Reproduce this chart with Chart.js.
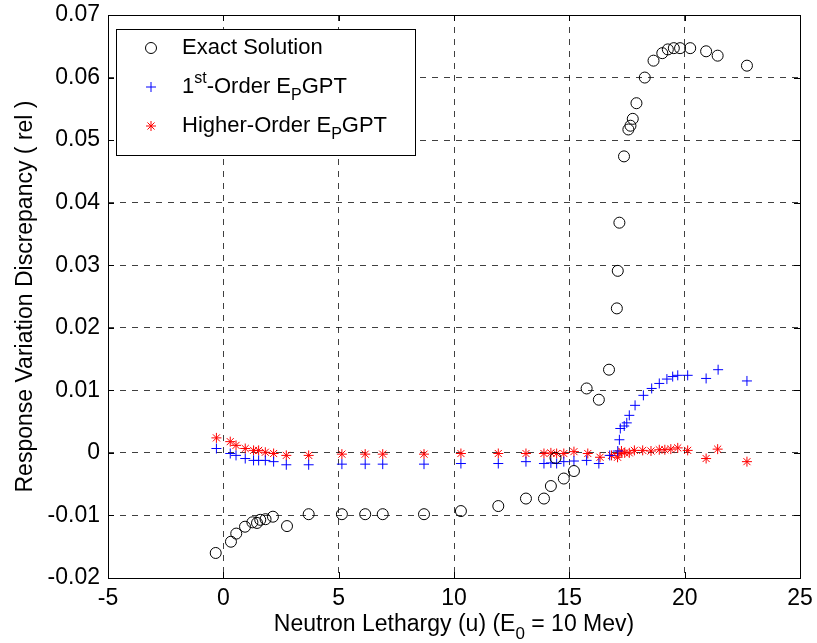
<!DOCTYPE html>
<html>
<head>
<meta charset="utf-8">
<script src="https://cdn.jsdelivr.net/npm/chart.js@4"></script>
<style>
  html, body { margin: 0; padding: 0; background: #fff; }
  #wrap { width: 817px; height: 643px; }
</style>
</head>
<body>
<div id="wrap"><canvas id="c" width="817" height="643"></canvas></div>
<script>
// Neutron lethargy (u) for each sample, and the relative response discrepancy
const exactU = [-0.33,0.33,0.56,0.94,1.26,1.46,1.6,1.83,2.15,2.76,3.7,5.14,6.15,6.91,8.7,10.3,11.92,13.12,13.9,14.2,14.4,14.76,15.2,15.75,16.28,16.72,17.06,17.1,17.17,17.37,17.56,17.65,17.75,17.91,18.27,18.65,19.03,19.27,19.53,19.8,20.24,20.93,21.43,22.7];
const exactV = [-0.0160,-0.0142,-0.0129,-0.0118,-0.0111,-0.0112,-0.0107,-0.0106,-0.0102,-0.0117,-0.0098,-0.0098,-0.0098,-0.0098,-0.0098,-0.0093,-0.0085,-0.0073,-0.0073,-0.0053,-0.0008,-0.0041,-0.0029,0.0103,0.0085,0.0133,0.0231,0.0291,0.0368,0.0474,0.0517,0.0523,0.0534,0.0559,0.0600,0.0627,0.0639,0.0645,0.0647,0.0647,0.0647,0.0642,0.0635,0.0619];

const firstU = [-0.3,0.3,0.55,0.95,1.31,1.53,1.82,2.18,2.73,3.7,5.14,6.15,6.91,8.7,10.3,11.92,13.12,13.9,14.2,14.45,14.76,15.2,15.75,16.28,16.75,17.1,17.17,17.21,17.38,17.49,17.6,17.85,18.21,18.57,18.9,19.23,19.48,19.7,20.13,20.93,21.45,22.7];
const firstV = [0.0007,-0.0001,-0.0004,-0.0009,-0.0012,-0.0012,-0.0012,-0.0014,-0.0019,-0.0019,-0.0018,-0.0018,-0.0018,-0.0018,-0.0017,-0.0017,-0.0014,-0.0017,-0.0016,-0.0017,-0.0014,-0.0013,-0.0012,-0.0017,-0.0004,0.0003,0.0021,0.0039,0.0043,0.0048,0.0060,0.0076,0.0092,0.0103,0.0111,0.0118,0.0122,0.0124,0.0124,0.0119,0.0133,0.0115];

const higherU = [-0.3,0.3,0.55,0.95,1.31,1.53,1.82,2.18,2.73,3.7,5.14,6.15,6.91,8.7,10.3,11.92,13.12,13.9,14.2,14.45,14.76,15.2,15.8,16.33,16.83,17.09,17.15,17.26,17.4,17.6,17.82,18.18,18.54,18.9,19.14,19.4,19.7,20.13,20.93,21.43,22.7];
const higherV = [0.0024,0.0018,0.0012,0.0007,0.0004,0.0004,0.0001,-0.0001,-0.0004,-0.0004,-0.0002,-0.0002,-0.0002,-0.0002,-0.0001,-0.0001,-0.0001,-0.0001,0,-0.0001,-0.0001,0.0002,-0.0001,-0.0007,-0.0004,-0.0007,-0.0001,0.0003,0,0,0.0004,0.0004,0.0003,0.0005,0.0005,0.0006,0.0008,0.0004,-0.0009,0.0006,-0.0014];

const xTicks = [-5, 0, 5, 10, 15, 20, 25];
const yTicks = [-0.02, -0.01, 0, 0.01, 0.02, 0.03, 0.04, 0.05, 0.06, 0.07];

const FONT = "'Liberation Sans', Arial, sans-serif";

const pts = (xs, ys) => xs.map((x, i) => ({ x: x, y: ys[i] }));

// Legend entries: pieces of text with normal / superscript / subscript runs
const legendRows = [
  [["n", "Exact Solution"]],
  [["n", "1"], ["sup", "st"], ["n", "-Order E"], ["sub", "P"], ["n", "GPT"]],
  [["n", "Higher-Order E"], ["sub", "P"], ["n", "GPT"]]
];

function drawRich(ctx, parts, x, y, size, align) {
  const small = Math.round(size * 0.72);
  const widthOf = p => {
    ctx.font = (p[0] === "n" ? size : small) + "px " + FONT;
    return ctx.measureText(p[1]).width;
  };
  const total = parts.reduce((s, p) => s + widthOf(p), 0);
  let cx = align === "center" ? x - total / 2 : x;
  ctx.textAlign = "left";
  ctx.textBaseline = "middle";
  parts.forEach(p => {
    const w = widthOf(p);
    let dy = 0;
    if (p[0] === "sup") dy = -size * 0.36;
    if (p[0] === "sub") dy = size * 0.4;
    ctx.fillText(p[1], cx, y + dy);
    cx += w;
  });
}

const framePlugin = {
  id: "frame",
  afterDraw(chart) {
    const { ctx, chartArea: a, scales } = chart;
    const xs = scales.x, ys = scales.y;
    ctx.save();
    // axes box
    ctx.strokeStyle = "#000";
    ctx.lineWidth = 1;
    ctx.setLineDash([]);
    ctx.strokeRect(Math.round(a.left) + 0.5, Math.round(a.top) + 0.5,
                   Math.round(a.right - a.left), Math.round(a.bottom - a.top));
    // inward tick marks on all four sides
    const tl = 6;
    ctx.beginPath();
    xTicks.forEach(v => {
      const px = Math.round(xs.getPixelForValue(v)) + 0.5;
      ctx.moveTo(px, a.bottom); ctx.lineTo(px, a.bottom - tl);
      ctx.moveTo(px, a.top); ctx.lineTo(px, a.top + tl);
    });
    yTicks.forEach(v => {
      const py = Math.round(ys.getPixelForValue(v)) + 0.5;
      ctx.moveTo(a.left, py); ctx.lineTo(a.left + tl, py);
      ctx.moveTo(a.right, py); ctx.lineTo(a.right - tl, py);
    });
    ctx.stroke();

    // axis titles
    ctx.fillStyle = "#000";
    drawRich(ctx, [["n", "Neutron Lethargy (u) (E"], ["sub", "0"], ["n", " = 10 Mev)"]],
             (a.left + a.right) / 2, 625, 23, "center");
    ctx.save();
    ctx.translate(26, (a.top + a.bottom) / 2);
    ctx.rotate(-Math.PI / 2);
    drawRich(ctx, [["n", "Response Variation Discrepancy ( rel )"]], 0, 0, 23, "center");
    ctx.restore();

    // legend box
    const lx = 116, ly = 29, lw = 299, lh = 126;
    ctx.fillStyle = "#fff";
    ctx.fillRect(lx, ly, lw, lh);
    ctx.strokeStyle = "#000";
    ctx.strokeRect(lx + 0.5, ly + 0.5, lw, lh);
    const rowY = [48, 87, 126];
    chart.data.datasets.forEach((ds, i) => {
      ctx.strokeStyle = ds.borderColor;
      ctx.fillStyle = ds.backgroundColor;
      ctx.lineWidth = ds.borderWidth;
      Chart.helpers.drawPoint(ctx, {
        pointStyle: ds.pointStyle,
        radius: ds.pointRadius,
        borderWidth: ds.borderWidth,
        rotation: 0
      }, 151, rowY[i]);
      ctx.fillStyle = "#000";
      drawRich(ctx, legendRows[i], 182, rowY[i], 22, "left");
    });
    ctx.restore();
  }
};

new Chart(document.getElementById("c"), {
  type: "scatter",
  data: {
    datasets: [
      {
        label: "Exact Solution",
        data: pts(exactU, exactV),
        pointStyle: "circle",
        pointRadius: 5.5,
        borderWidth: 1,
        borderColor: "#000",
        backgroundColor: "rgba(0,0,0,0)"
      },
      {
        label: "1st-Order EPGPT",
        data: pts(firstU, firstV),
        pointStyle: "cross",
        pointRadius: 5,
        borderWidth: 1,
        borderColor: "#0000ff",
        backgroundColor: "#0000ff"
      },
      {
        label: "Higher-Order EPGPT",
        data: pts(higherU, higherV),
        pointStyle: "star",
        pointRadius: 5,
        borderWidth: 1,
        borderColor: "#ff0000",
        backgroundColor: "#ff0000"
      }
    ]
  },
  options: {
    responsive: false,
    animation: false,
    events: [],
    layout: { padding: { top: 15, right: 17, left: 0, bottom: 0 } },
    plugins: { legend: { display: false }, tooltip: { enabled: false } },
    scales: {
      x: {
        type: "linear",
        min: -5, max: 25,
        afterFit: s => { s.height = 65; s.paddingLeft = 0; s.paddingRight = 0; },
        afterBuildTicks: s => { s.ticks = xTicks.map(v => ({ value: v })); },
        ticks: {
          color: "#000",
          font: { family: FONT, size: 23 },
          padding: 7,
          maxRotation: 0,
          callback: v => String(v)
        },
        grid: {
          drawTicks: false,
          lineWidth: 1,
          color: c => (c.tick && (c.tick.value === -5 || c.tick.value === 25)) ? "rgba(0,0,0,0)" : "rgba(0,0,0,0.75)"
        },
        border: { display: false, dash: [6, 6] }
      },
      y: {
        type: "linear",
        min: -0.02, max: 0.07,
        afterFit: s => { s.width = 108; s.paddingTop = 0; s.paddingBottom = 0; },
        afterBuildTicks: s => { s.ticks = yTicks.map(v => ({ value: v })); },
        ticks: {
          color: "#000",
          font: { family: FONT, size: 23 },
          padding: 8,
          callback: v => {
            const r = Math.round(v * 100) / 100;
            return r === 0 ? "0" : r.toFixed(2);
          }
        },
        grid: {
          drawTicks: false,
          lineWidth: 1,
          color: c => (c.tick && (Math.abs(c.tick.value + 0.02) < 1e-9 || Math.abs(c.tick.value - 0.07) < 1e-9)) ? "rgba(0,0,0,0)" : "rgba(0,0,0,0.75)"
        },
        border: { display: false, dash: [6, 6] }
      }
    }
  },
  plugins: [framePlugin]
});
</script>
</body>
</html>
